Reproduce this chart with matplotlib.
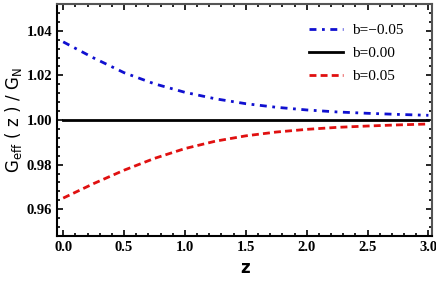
import matplotlib
matplotlib.use('Agg')
import matplotlib.pyplot as plt
from matplotlib.ticker import MultipleLocator, FormatStrFormatter

# values
z = [0.0, 0.25, 0.5, 0.75, 1.0, 1.25, 1.5, 1.75, 2.0, 2.25, 2.5, 2.75, 3.0]
g_neg = [1.035, 1.0278, 1.0212, 1.0162, 1.0124, 1.0095, 1.0073, 1.0057,
         1.0045, 1.0036, 1.003, 1.0025, 1.0021]
g_zero = [1.0] * len(z)
g_pos = [0.965, 0.9715, 0.9775, 0.9828, 0.9872, 0.9905, 0.9929, 0.9946,
         0.9958, 0.9967, 0.9973, 0.9978, 0.9982]
labels = ['b=\u22120.05', 'b=0.00', 'b=0.05']

matplotlib.rcParams['mathtext.fontset'] = 'custom'
matplotlib.rcParams['mathtext.sf'] = 'DejaVu Sans:medium'

fig = plt.figure(figsize=(4.36, 2.82), dpi=100)
ax = fig.add_axes([0.131, 0.163, 0.860, 0.823])

ax.plot(z, g_neg, color='#1010d0', lw=2.0, linestyle=(0, (2.5, 2, 1, 2)), label=labels[0])
ax.plot(z, g_zero, color='black', lw=2.0, linestyle='-', label=labels[1])
ax.plot(z, g_pos, color='#e01010', lw=2.0, linestyle=(0, (2.5, 1.5)), label=labels[2])

ax.set_xlim(-0.05, 3.03)
ax.set_ylim(0.948, 1.052)
ax.xaxis.set_major_locator(MultipleLocator(0.5))
ax.xaxis.set_minor_locator(MultipleLocator(0.1))
ax.yaxis.set_major_locator(MultipleLocator(0.02))
ax.yaxis.set_minor_locator(MultipleLocator(0.004))
ax.xaxis.set_major_formatter(FormatStrFormatter('%.1f'))
ax.yaxis.set_major_formatter(FormatStrFormatter('%.2f'))
ax.tick_params(which='both', direction='in', top=True, right=True, width=1.2)
ax.tick_params(which='major', length=4)
ax.tick_params(which='minor', length=2)
for lab in ax.get_xticklabels() + ax.get_yticklabels():
    lab.set_family('Liberation Serif')
    lab.set_fontweight('bold')
    lab.set_fontsize(10.5)
for s in ax.spines.values():
    s.set_linewidth(1.5)
ax.spines['top'].set_color('#555555')
ax.spines['right'].set_color('#555555')

ax.set_xlabel('z', fontsize=12, fontweight='bold', family='DejaVu Sans')
ax.set_ylabel(r'$\mathsf{G_{eff}\ (\ z\ )\ /\ G_N}$', fontsize=12, labelpad=2)

leg = ax.legend(loc='upper right', bbox_to_anchor=(0.96, 0.975), frameon=False,
                prop={'family': 'Liberation Serif', 'size': 11},
                handlelength=2.2, labelspacing=0.6, handletextpad=0.6)

plt.savefig('out.png', dpi=100)
